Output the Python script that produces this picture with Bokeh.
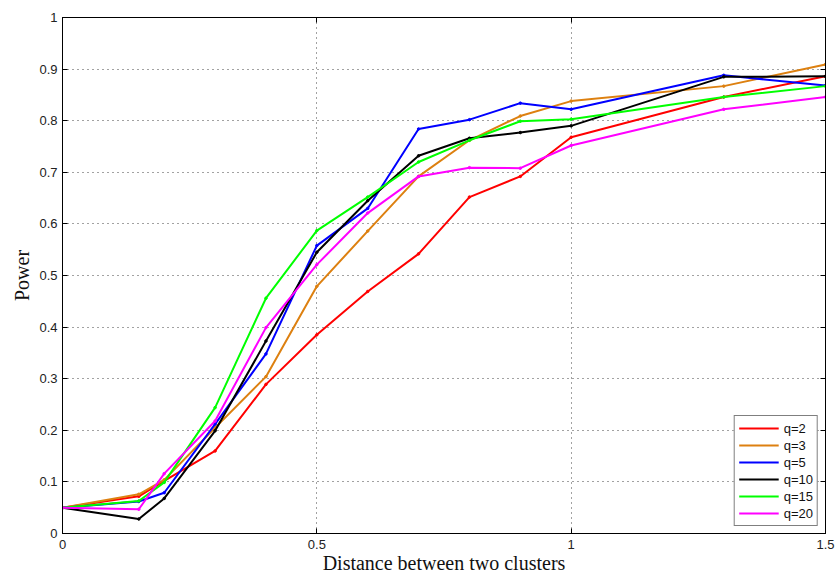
from bokeh.plotting import figure
from bokeh.models import Range1d, FixedTicker, LinearAxis, CustomLabelingPolicy
from bokeh.embed import file_html
from bokeh.resources import INLINE

# ---- data ----
distance = [0, 0.15, 0.2, 0.3, 0.4, 0.5, 0.6, 0.7, 0.8, 0.9, 1.0, 1.3, 1.5]
q2 = [0.05, 0.072, 0.102, 0.160, 0.289, 0.385, 0.469, 0.542, 0.652, 0.692, 0.768, 0.846, 0.886]
q3 = [0.05, 0.076, 0.104, 0.205, 0.304, 0.479, 0.586, 0.692, 0.762, 0.809, 0.838, 0.867, 0.909]
q5 = [0.05, 0.062, 0.079, 0.212, 0.348, 0.558, 0.630, 0.784, 0.802, 0.834, 0.822, 0.888, 0.868]
q10 = [0.05, 0.028, 0.068, 0.199, 0.373, 0.545, 0.645, 0.732, 0.766, 0.777, 0.790, 0.885, 0.886]
q15 = [0.05, 0.063, 0.099, 0.244, 0.456, 0.587, 0.652, 0.720, 0.762, 0.799, 0.803, 0.846, 0.867]
q20 = [0.05, 0.047, 0.116, 0.218, 0.399, 0.521, 0.621, 0.692, 0.709, 0.708, 0.752, 0.822, 0.846]

series_labels = ["q=2", "q=3", "q=5", "q=10", "q=15", "q=20"]
series_values = [q2, q3, q5, q10, q15, q20]
series_colors = ["#ff0000", "#dd8010", "#0000ff", "#000000", "#00ff00", "#ff00ff"]

x_ticks = [0, 0.5, 1.0, 1.5]
x_tick_labels = ["0", "0.5", "1", "1.5"]
y_ticks = [0, 0.1, 0.2, 0.3, 0.4, 0.5, 0.6, 0.7, 0.8, 0.9, 1.0]
y_tick_labels = ["0", "0.1", "0.2", "0.3", "0.4", "0.5", "0.6", "0.7", "0.8", "0.9", "1"]

TICK_FONT = "Liberation Sans"
LABEL_FONT = "Liberation Serif"

p = figure(width=838, height=576, output_backend="svg", toolbar_location=None,
           x_range=Range1d(0, 1.5), y_range=Range1d(0, 1),
           min_border_left=62, min_border_right=13, min_border_top=17, min_border_bottom=43)

p.outline_line_color = "black"
p.outline_line_width = 1
p.background_fill_color = "white"
p.border_fill_color = "white"

# axes
p.xaxis.ticker = FixedTicker(ticks=x_ticks)
p.yaxis.ticker = FixedTicker(ticks=y_ticks)
p.xaxis.major_label_overrides = {t: l for t, l in zip(x_ticks, x_tick_labels)}
p.yaxis.major_label_overrides = {t: l for t, l in zip(y_ticks, y_tick_labels)}
p.xaxis.axis_label = "Distance between two clusters"
p.yaxis.axis_label = "Power"
for ax in (p.xaxis[0], p.yaxis[0]):
    ax.major_tick_in = 5
    ax.major_tick_out = 0
    ax.minor_tick_in = 0
    ax.minor_tick_out = 0
    ax.axis_line_color = "black"
    ax.major_tick_line_color = "black"
    ax.major_label_text_font = TICK_FONT
    ax.major_label_text_font_size = "13px"
    ax.major_label_text_color = "#222222"
    ax.axis_label_text_font = LABEL_FONT
    ax.axis_label_text_font_size = "20px"
    ax.axis_label_text_font_style = "normal"
    ax.axis_label_text_color = "#111111"
p.xaxis.major_label_standoff = 6
p.yaxis.major_label_standoff = 5
p.xaxis.axis_label_standoff = 0
p.yaxis.axis_label_standoff = 3

# mirrored ticks on top and right (no labels)
no_labels = CustomLabelingPolicy(code="return new indices.constructor(indices.size, 0)")
top = LinearAxis(ticker=FixedTicker(ticks=x_ticks), major_tick_in=5, major_tick_out=0,
                 minor_tick_in=0, minor_tick_out=0, major_label_policy=no_labels,
                 major_label_text_font_size="1px",
                 major_label_standoff=0, axis_line_color="black")
right = LinearAxis(ticker=FixedTicker(ticks=y_ticks), major_tick_in=5, major_tick_out=0,
                   minor_tick_in=0, minor_tick_out=0, major_label_policy=no_labels,
                   major_label_text_font_size="1px",
                   major_label_standoff=0, axis_line_color="black")
p.add_layout(top, "above")
p.add_layout(right, "right")

# grid
p.xgrid.ticker = FixedTicker(ticks=x_ticks)
p.ygrid.ticker = FixedTicker(ticks=y_ticks)
for g in (p.xgrid[0], p.ygrid[0]):
    g.grid_line_color = "#444444"
    g.grid_line_dash = "1 4"
    g.grid_line_width = 1

# lines
for lab, vals, col in zip(series_labels, series_values, series_colors):
    p.line(distance, vals, line_color=col, line_width=2, legend_label=lab)
    p.scatter(distance, vals, marker="circle", size=2.5, fill_color=col, line_color=col)

leg = p.legend[0]
leg.location = "bottom_right"
leg.margin = 7
leg.padding = 4
leg.spacing = 1
leg.glyph_width = 40
leg.glyph_height = 16
leg.label_height = 16
leg.label_standoff = 5
leg.label_text_font = TICK_FONT
leg.label_text_font_size = "13px"
leg.label_text_color = "#111111"
leg.border_line_color = "black"
leg.border_line_width = 1
leg.background_fill_color = "white"
leg.background_fill_alpha = 1.0

open("out.html", "w").write(file_html(p, INLINE))
